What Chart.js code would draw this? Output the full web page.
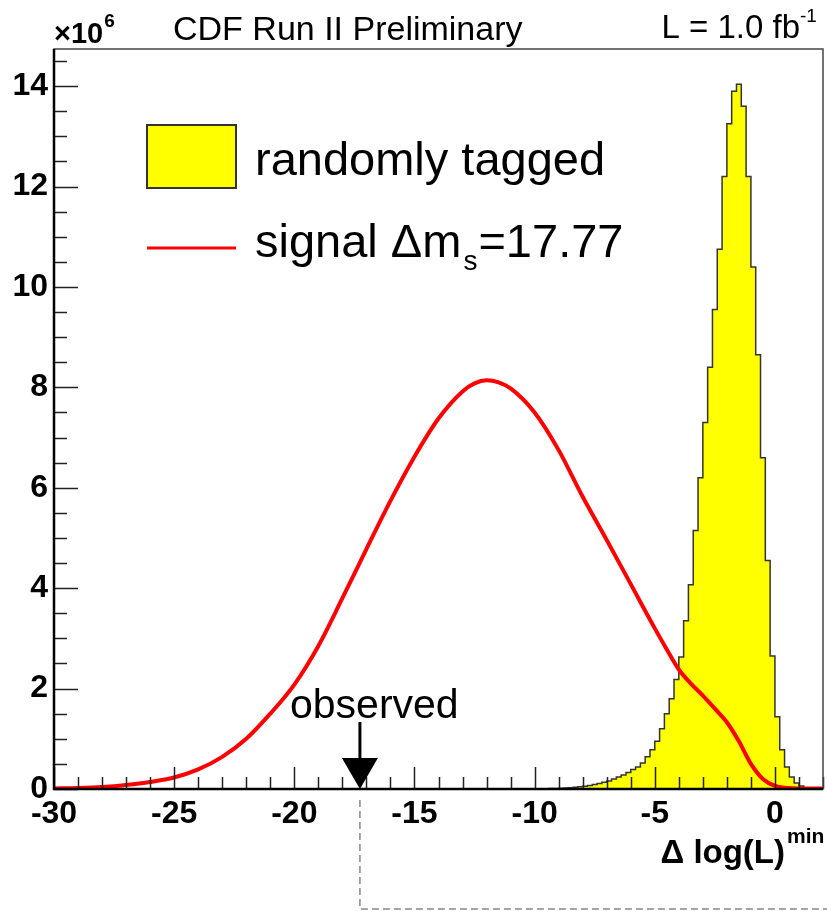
<!DOCTYPE html>
<html>
<head>
<meta charset="utf-8">
<script src="https://cdn.jsdelivr.net/npm/chart.js@4.4.0/dist/chart.umd.min.js"></script>
<style>
  html, body { margin: 0; padding: 0; background: #fff; }
  canvas { display: block; }
</style>
</head>
<body>
<canvas id="cdfChart" width="827" height="911"></canvas>
<script>
// randomly tagged pseudo-experiments, bin contents in units of 10^6
// bins are 0.2 wide, first bin starts at -9.6
const binLow = -9.6;
const binWidth = 0.2;
const taggedCounts = [
  0.005, 0.008, 0.01, 0.015, 0.02, 0.025, 0.035, 0.045, 0.055, 0.07,
  0.09, 0.11, 0.135, 0.16, 0.2, 0.24, 0.28, 0.33, 0.39, 0.44,
  0.52, 0.64, 0.78, 0.95, 1.2, 1.5, 1.8, 2.18, 2.63, 3.35,
  4.07, 5.15, 6.2, 7.3, 8.4, 9.55, 10.75, 12.2, 13.25, 13.9,
  14.04, 13.6, 12.2, 10.4, 8.65, 6.6, 4.55, 2.65, 1.44, 0.78,
  0.44, 0.24, 0.12, 0.06, 0.02, 0.005
];

// signal expectation for dms = 17.77
const signalX = [-30, -29, -28, -27, -26, -25, -24, -23, -22, -21, -20, -19, -18, -17, -16, -15, -14, -13,
  -12.5, -12, -11.5, -11, -10, -9, -8, -7, -6, -5, -4.5, -4, -3.5, -3, -2.5, -2, -1.5, -1, -0.5, 0, 0.5, 1, 2];
const signalY = [0.01, 0.02, 0.04, 0.08, 0.14, 0.23, 0.39, 0.64, 1.0, 1.5, 2.08, 2.85, 3.8, 4.78, 5.74, 6.62, 7.38, 7.92,
  8.08, 8.14, 8.1, 7.98, 7.5, 6.75, 5.82, 4.96, 4.08, 3.2, 2.78, 2.38, 2.1, 1.86, 1.6, 1.33, 0.95, 0.5, 0.2, 0.06, 0.02, 0.01, 0.01];

const observedValue = -17.27;

const xTickLabels = [-30, -25, -20, -15, -10, -5, 0];
const yTickLabels = [0, 2, 4, 6, 8, 10, 12, 14];

const FONT = "'Liberation Sans', Arial, Helvetica, sans-serif";

// step points for the histogram outline (value held until the next edge)
let histPoints = [{ x: binLow, y: 0 }];
taggedCounts.forEach(function (v, i) {
  histPoints.push({ x: binLow + i * binWidth, y: v });
});
histPoints.push({ x: binLow + taggedCounts.length * binWidth, y: taggedCounts[taggedCounts.length - 1] });
histPoints.push({ x: binLow + taggedCounts.length * binWidth, y: 0 });

let signalPoints = signalX.map(function (xv, i) {
  return { x: xv, y: signalY[i] };
});

function txt(ctx, s, x, y, font, align) {
  ctx.font = font;
  ctx.textAlign = align || 'left';
  ctx.textBaseline = 'alphabetic';
  ctx.fillText(s, x, y);
}

const decorations = {
  id: 'decorations',
  afterDatasetsDraw(chart) {
    const ctx = chart.ctx;
    const a = chart.chartArea;
    const xs = chart.scales.x;
    const ys = chart.scales.y;
    ctx.save();

    // tick marks pointing into the frame
    ctx.strokeStyle = '#222';
    ctx.lineWidth = 1.5;
    ctx.beginPath();
    for (let v = -30; v <= 2; v += 1) {
      let px = Math.round(xs.getPixelForValue(v)) + 0.5;
      let len = (v % 5 === 0) ? 22 : 12;
      ctx.moveTo(px, a.bottom);
      ctx.lineTo(px, a.bottom - len);
    }
    for (let v = 0; v <= 14.5; v += 0.5) {
      let py = Math.round(ys.getPixelForValue(v)) + 0.5;
      let len = (v % 2 === 0) ? 24 : 13;
      ctx.moveTo(a.left, py);
      ctx.lineTo(a.left + len, py);
    }
    ctx.stroke();

    // frame
    ctx.strokeStyle = '#444';
    ctx.lineWidth = 1.5;
    ctx.strokeRect(a.left, a.top, a.right - a.left, a.bottom - a.top);
    ctx.strokeStyle = '#000';
    ctx.lineWidth = 2.5;
    ctx.beginPath();
    ctx.moveTo(a.left, a.top);
    ctx.lineTo(a.left, a.bottom);
    ctx.lineTo(a.right, a.bottom);
    ctx.stroke();

    // legend
    ctx.fillStyle = '#ffff00';
    ctx.fillRect(147, 125, 89, 63);
    ctx.strokeStyle = '#333';
    ctx.lineWidth = 2;
    ctx.strokeRect(147, 125, 89, 63);
    ctx.strokeStyle = '#ff0000';
    ctx.lineWidth = 3;
    ctx.beginPath();
    ctx.moveTo(147, 248);
    ctx.lineTo(236, 248);
    ctx.stroke();

    ctx.fillStyle = '#000';
    txt(ctx, 'randomly tagged', 255, 175, '47px ' + FONT);
    txt(ctx, 'signal \u0394m', 255, 257, '47px ' + FONT);
    let w = ctx.measureText('signal \u0394m').width;
    txt(ctx, 's', 255 + w + 2, 270, '28px ' + FONT);
    let ws = ctx.measureText('s').width;
    txt(ctx, '=17.77', 255 + w + ws + 3, 257, '47px ' + FONT);

    // header texts
    txt(ctx, '\u00d710', 54, 43, 'bold 29px ' + FONT);
    let w10 = ctx.measureText('\u00d710').width;
    txt(ctx, '6', 54 + w10 + 1, 27, 'bold 19px ' + FONT);
    txt(ctx, 'CDF Run II Preliminary', 173, 40, '34px ' + FONT);
    txt(ctx, 'L = 1.0 fb', 800, 38, '33px ' + FONT, 'right');
    txt(ctx, '-1', 800, 22, '19px ' + FONT);

    // axis title
    txt(ctx, '\u0394 log(L)', 785, 863, 'bold 33px ' + FONT, 'right');
    txt(ctx, 'min', 787, 843, 'bold 21px ' + FONT);

    // observed marker
    let ox = xs.getPixelForValue(observedValue);
    txt(ctx, 'observed', 290, 718, '41px ' + FONT);
    ctx.strokeStyle = '#000';
    ctx.lineWidth = 3;
    ctx.beginPath();
    ctx.moveTo(ox, 722);
    ctx.lineTo(ox, 760);
    ctx.stroke();
    ctx.beginPath();
    ctx.moveTo(ox - 18, 758);
    ctx.lineTo(ox + 18, 758);
    ctx.lineTo(ox, a.bottom);
    ctx.closePath();
    ctx.fill();

    // dashed guide below the axis
    ctx.strokeStyle = '#888';
    ctx.lineWidth = 1.5;
    ctx.setLineDash([7, 4]);
    ctx.beginPath();
    ctx.moveTo(ox, 800);
    ctx.lineTo(ox, 909);
    ctx.lineTo(827, 909);
    ctx.stroke();
    ctx.restore();
  }
};

let ctx = document.getElementById('cdfChart').getContext('2d');

let chart = new Chart(ctx, {
  type: 'line',
  data: {
    datasets: [
      {
        label: 'signal \u0394ms=17.77',
        data: signalPoints,
        borderColor: '#ff0000',
        borderWidth: 4,
        pointRadius: 0,
        fill: false,
        cubicInterpolationMode: 'monotone',
        order: 0
      },
      {
        label: 'randomly tagged',
        data: histPoints,
        borderColor: '#333',
        borderWidth: 1.5,
        backgroundColor: '#ffff00',
        pointRadius: 0,
        stepped: 'before',
        fill: 'origin',
        order: 1
      }
    ]
  },
  options: {
    responsive: false,
    animation: false,
    layout: { padding: { top: 49, right: 4, left: 0, bottom: 0 } },
    plugins: { legend: { display: false }, tooltip: { enabled: false } },
    scales: {
      x: {
        type: 'linear',
        min: -30,
        max: 2,
        grid: { display: false, drawTicks: false },
        border: { display: false },
        afterFit: function (scale) { scale.height = 122; },
        afterBuildTicks: function (scale) {
          scale.ticks = xTickLabels.map(function (v) { return { value: v }; });
        },
        ticks: {
          color: '#000',
          padding: 6,
          maxRotation: 0,
          font: { family: FONT, size: 32, weight: 'bold' }
        }
      },
      y: {
        type: 'linear',
        min: 0,
        max: 14.74,
        grid: { display: false, drawTicks: false },
        border: { display: false },
        afterFit: function (scale) { scale.width = 54; },
        afterBuildTicks: function (scale) {
          scale.ticks = yTickLabels.map(function (v) { return { value: v }; });
        },
        ticks: {
          color: '#000',
          padding: 6,
          font: { family: FONT, size: 32, weight: 'bold' }
        }
      }
    }
  },
  plugins: [decorations]
});
</script>
</body>
</html>
